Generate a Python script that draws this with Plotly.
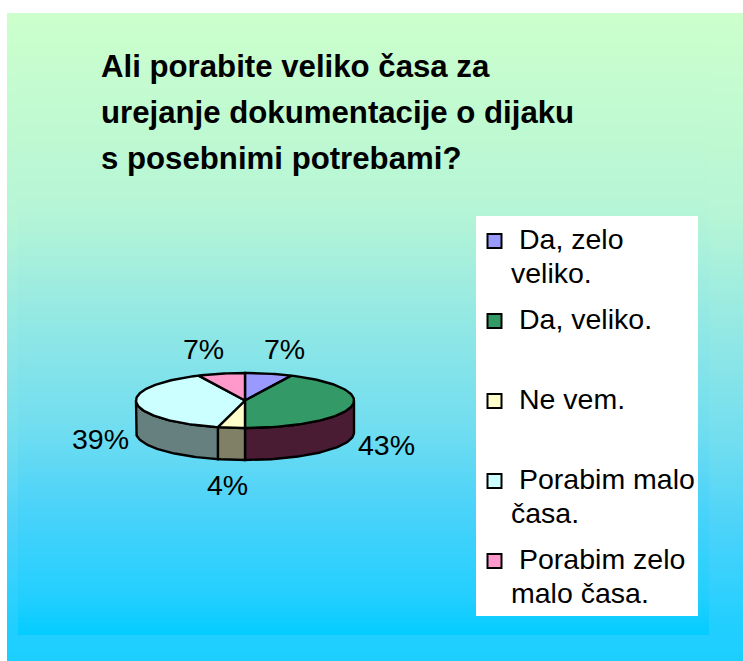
import math
import numpy as np
import plotly.graph_objects as go

categories = ["Da, zelo veliko.", "Da, veliko.", "Ne vem.", "Porabim malo časa.", "Porabim zelo malo časa."]
values = [7, 43, 4, 39, 7]
value_labels = ["7%", "43%", "4%", "39%", "7%"]
title_lines = ["Ali porabite veliko časa za", "urejanje dokumentacije o dijaku", "s posebnimi potrebami?"]
legend_lines = [["Da, zelo", "veliko."], ["Da, veliko."], ["Ne vem."], ["Porabim malo", "časa."], ["Porabim zelo", "malo časa."]]

top_colors = ["#9999FF", "#339966", "#FFFFCC", "#CCFFFF", "#FF99CC"]
side_colors = ["#4D4D80", "#4A1C33", "#808066", "#668080", "#804D66"]

FONT = "Liberation Sans, Arial, sans-serif"
W, H = 743, 661
CX, CY, RX, RY, DEPTH = 245, 400.5, 109, 27.5, 32
LABEL_XY = [(284.5, 348.5), (386.5, 444.5), (227.5, 484.5), (100.5, 438.5), (203.5, 348.5)]

GRAD_POS = [0, 0.316, 0.493, 0.67, 0.79, 0.942, 1]
GRAD_COL = ["#CCFFCC", "#B6F5D6", "#93E8E4", "#70DDF0", "#4DD3F9", "#22CFFF", "#04CCFF"]
OUTER_END = "#1CCFFF"


def gradient(x0, x1, y0, y1, cols):
    ys = np.arange(y0, y1 + 1, 2.0)
    z = np.linspace(0, 1, len(ys) - 1).reshape(-1, 1)
    return go.Heatmap(x=[x0, x1], y=ys, z=z, colorscale=[[p, c] for p, c in zip(GRAD_POS, cols)],
                      showscale=False, hoverinfo="skip", zmin=0, zmax=1)


def pt(t, dy=0.0):
    return CX + RX * math.sin(t), CY - RY * math.cos(t) + dy


def arc(a, b, dy=0.0, step=math.radians(1.5)):
    n = max(2, int(abs(b - a) / step) + 1)
    return [pt(a + (b - a) * i / (n - 1), dy) for i in range(n)]


fig = go.Figure()
fig.add_trace(gradient(7, 743, 13, 661, GRAD_COL[:-1] + [OUTER_END]))
fig.add_trace(gradient(18, 709, 13, 636, GRAD_COL))

total = sum(values)
edges = [0.0]
for v in values:
    edges.append(edges[-1] + v / total * 2 * math.pi)

# side walls (front half only)
for i, v in enumerate(values):
    a, b = max(edges[i], math.pi / 2), min(edges[i + 1], 3 * math.pi / 2)
    if b <= a:
        continue
    top = arc(a, b)
    bot = arc(b, a, DEPTH)
    pts = top + bot + [top[0]]
    fig.add_trace(go.Scatter(x=[p[0] for p in pts], y=[p[1] for p in pts], mode="lines", fill="toself",
                             fillcolor=side_colors[i], line=dict(color="black", width=2.4), hoverinfo="skip",
                             showlegend=False))
# top slices
for i, v in enumerate(values):
    pts = [(CX, CY)] + arc(edges[i], edges[i + 1]) + [(CX, CY)]
    fig.add_trace(go.Scatter(x=[p[0] for p in pts], y=[p[1] for p in pts], mode="lines", fill="toself",
                             fillcolor=top_colors[i], line=dict(color="black", width=2.4), name=categories[i],
                             hoverinfo="name", showlegend=False))

shapes = [dict(type="rect", x0=476, x1=698, y0=216, y1=616, xref="x", yref="y",
               fillcolor="white", line=dict(width=0), layer="above")]
ann = []
SIZE = 28.5
for (x, y), t in zip(LABEL_XY, value_labels):
    ann.append(dict(x=x, y=y, text=t, showarrow=False, xanchor="center", yanchor="middle",
                    font=dict(family=FONT, size=SIZE, color="black")))
for t, y in zip(title_lines, [66, 112.5, 158]):
    ann.append(dict(x=98.5, y=y, text=t, showarrow=False, xanchor="left", yanchor="middle",
                    font=dict(family=FONT, size=31.2, color="black", weight="bold")))
LEG_Y = [241, 321, 401, 481, 561]
for lines, y, col in zip(legend_lines, LEG_Y, top_colors):
    shapes.append(dict(type="rect", x0=487.5, x1=501.5, y0=y - 7, y1=y + 7, xref="x", yref="y",
                       fillcolor=col, line=dict(color="black", width=2), layer="above"))
    ann.append(dict(x=516.5, y=y - 2, text=lines[0], showarrow=False, xanchor="left", yanchor="middle",
                    font=dict(family=FONT, size=SIZE, color="black")))
    if len(lines) > 1:
        ann.append(dict(x=509, y=y + 32, text=lines[1], showarrow=False, xanchor="left", yanchor="middle",
                        font=dict(family=FONT, size=SIZE, color="black")))

fig.update_layout(
    width=W, height=H, margin=dict(l=0, r=0, t=0, b=0), autosize=False,
    paper_bgcolor="white", plot_bgcolor="white", showlegend=False,
    xaxis=dict(range=[0, W], visible=False, fixedrange=True),
    yaxis=dict(range=[H, 0], visible=False, fixedrange=True),
    shapes=shapes, annotations=ann,
)
fig.write_html("out.html", config={"displayModeBar": False},
               post_script="document.body.style.margin='0';document.body.style.overflow='hidden';")
